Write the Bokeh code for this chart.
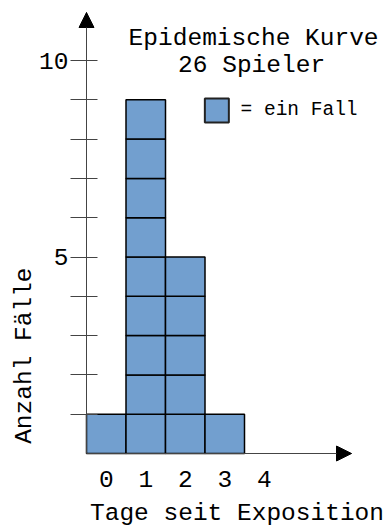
import math
from bokeh.plotting import figure
from bokeh.models import FixedTicker, Label, Arrow, NormalHead, ColumnDataSource
from bokeh.embed import file_html
from bokeh.resources import INLINE

# data
days = [0, 1, 2, 3]
counts = [1, 9, 5, 1]
x_ticks = [0, 1, 2, 3, 4]
y_ticks = [1, 2, 3, 4, 5, 6, 7, 8, 9, 10]
y_labels = {5: "5", 10: "10"}
title_lines = ["Epidemische Kurve", "26 Spieler"]
legend_text = "= ein Fall"
x_title = "Tage seit Exposition"
y_title = "Anzahl Fälle"

FONT = "Liberation Mono"
BAR = "#729fcf"
AX = "#444444"

W, H = 392, 527
SX, SY = 39.5, 39.3
OX, OY = 86, 453          # pixel position of x=-0.5, y=0
x_start = -0.5 - OX / SX
x_end = -0.5 + (W - OX) / SX
y_start = -(H - OY) / SY
y_end = OY / SY
y_tip = (OY - 12) / SY
x_tip = -0.5 + (351 - OX) / SX

p = figure(width=W, height=H, output_backend="svg", toolbar_location=None,
           x_range=(x_start, x_end), y_range=(y_start, y_end),
           min_border=0)
p.outline_line_color = None
p.xgrid.grid_line_color = None
p.ygrid.grid_line_color = None
p.background_fill_color = "white"
p.border_fill_color = "white"

# squares, one per case
xs, ys = [], []
for d, c in zip(days, counts):
    for k in range(c):
        xs.append(d)
        ys.append(k + 0.5)
src = ColumnDataSource(dict(x=xs, y=ys))
p.rect(x="x", y="y", width=1, height=1, source=src, fill_color=BAR,
       line_color="black", line_width=1.5)

# axes
xa = p.xaxis[0]
xa.fixed_location = 0
xa.bounds = (-0.5, x_tip)
xa.ticker = FixedTicker(ticks=x_ticks)
xa.major_tick_out = 0
xa.major_tick_in = 0
xa.minor_tick_out = 0
xa.minor_tick_in = 0
xa.axis_line_color = AX
xa.major_label_text_font = FONT
xa.major_label_text_font_size = "24.5px"
xa.major_label_text_color = "black"
xa.major_label_standoff = 17

ya = p.yaxis[0]
ya.fixed_location = -0.5
ya.bounds = (0, y_tip)
ya.ticker = FixedTicker(ticks=y_ticks)
ya.major_label_overrides = {t: y_labels.get(t, "") for t in y_ticks}
ya.major_tick_out = 16
ya.major_tick_in = 11
ya.minor_tick_out = 0
ya.minor_tick_in = 0
ya.axis_line_color = AX
ya.major_tick_line_color = AX
ya.major_label_text_font = FONT
ya.major_label_text_font_size = "24.5px"
ya.major_label_text_color = "black"
ya.major_label_standoff = 2

# arrow heads at the ends of the axes
p.add_layout(Arrow(x_start=-0.5, y_start=10.5, x_end=-0.5, y_end=y_tip,
                   line_color=AX, line_width=1,
                   end=NormalHead(size=15, fill_color="black", line_color="black", line_width=1)))
p.add_layout(Arrow(x_start=5.0, y_start=0, x_end=x_tip, y_end=0,
                   line_color=AX, line_width=1,
                   end=NormalHead(size=15, fill_color="black", line_color="black", line_width=1)))

# legend square
p.scatter(x=[2.80], y=[8.73], marker="square", size=24, fill_color=BAR,
          line_color="#222222", line_width=2)
p.add_layout(Label(x=3.40, y=8.73, text=legend_text, text_font=FONT,
                   text_font_size="19.5px", text_baseline="middle", text_align="left",
                   text_color="black"))

# titles
p.add_layout(Label(x=3.73, y=10.56, text=title_lines[0], text_font=FONT,
                   text_font_size="24.5px", text_baseline="middle", text_align="center",
                   text_color="black"))
p.add_layout(Label(x=3.68, y=9.87, text=title_lines[1], text_font=FONT,
                   text_font_size="24.5px", text_baseline="middle", text_align="center",
                   text_color="black"))
p.add_layout(Label(x=3.31, y=-1.53, text=x_title, text_font=FONT,
                   text_font_size="24.5px", text_baseline="middle", text_align="center",
                   text_color="black"))
p.add_layout(Label(x=-2.07, y=2.49, text=y_title, text_font=FONT, angle=math.pi / 2,
                   text_font_size="24.5px", text_baseline="middle", text_align="center",
                   text_color="black"))

open("out.html", "w").write(file_html(p, INLINE))
